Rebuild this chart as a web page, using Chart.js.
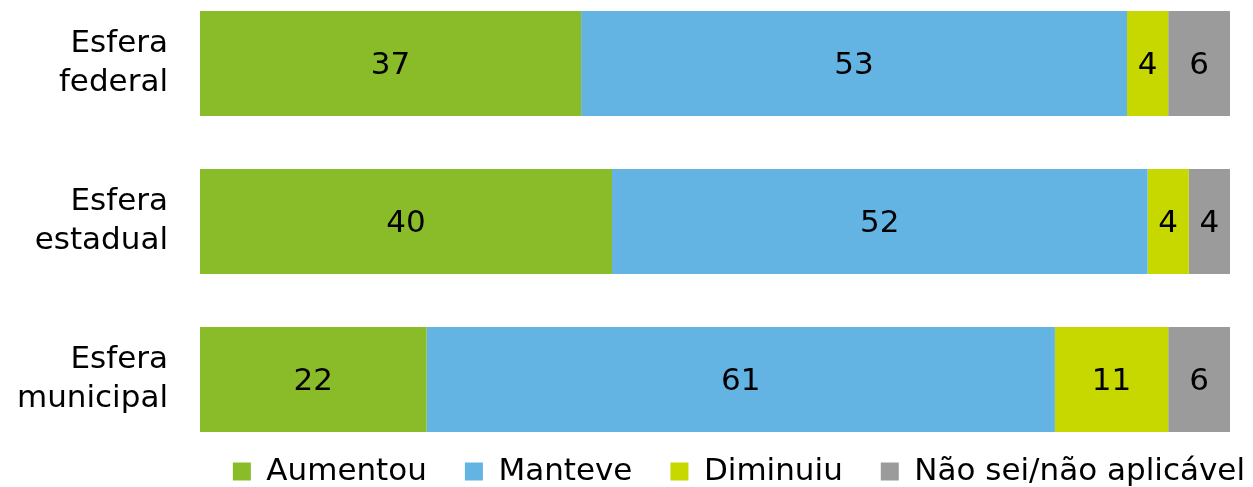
<!DOCTYPE html>
<html>
<head>
<meta charset="utf-8">
<script src="https://cdn.jsdelivr.net/npm/chart.js@4/dist/chart.umd.min.js"></script>
<style>
  html, body { margin: 0; padding: 0; background: #fff; overflow: hidden; }
  #wrap { width: 1253px; height: 487px; overflow: hidden; }
</style>
</head>
<body>
<div id="wrap">
  <canvas id="chart" width="1283" height="497"></canvas>
</div>
<script>
// dados (%)
const categorias = [['Esfera', 'federal'], ['Esfera', 'estadual'], ['Esfera', 'municipal']];
const aumentou = [37, 40, 22];
const manteve = [53, 52, 61];
const diminuiu = [4, 4, 11];
const naoSei = [6, 4, 6];

const series = [
    { label: 'Aumentou', data: aumentou, color: '#8abb28' },
    { label: 'Manteve', data: manteve, color: '#63b3e3' },
    { label: 'Diminuiu', data: diminuiu, color: '#c7d700' },
    { label: 'Não sei/não aplicável', data: naoSei, color: '#9b9b9c' }
];

Chart.defaults.font.family = "'DejaVu Sans', Verdana, sans-serif";
Chart.defaults.color = '#000';

// rótulos de valor no centro de cada segmento
const valueLabels = {
    id: 'valueLabels',
    afterDatasetsDraw(chart) {
        const ctx = chart.ctx;
        ctx.save();
        ctx.font = "31px 'DejaVu Sans', Verdana, sans-serif";
        ctx.fillStyle = '#000';
        ctx.textAlign = 'center';
        ctx.textBaseline = 'middle';
        chart.data.datasets.forEach((ds, i) => {
            chart.getDatasetMeta(i).data.forEach((bar, j) => {
                const p = bar.getCenterPoint();
                ctx.fillText(ds.data[j], p.x, p.y + 2);
            });
        });
        ctx.restore();
    }
};

const ctx = document.getElementById('chart').getContext('2d');
new Chart(ctx, {
    type: 'bar',
    data: {
        labels: categorias,
        datasets: series.map(s => ({
            label: s.label,
            data: s.data,
            backgroundColor: s.color,
            borderWidth: 0,
            categoryPercentage: 1,
            barPercentage: 0.665,
            clip: false
        }))
    },
    options: {
        indexAxis: 'y',
        responsive: false,
        animation: false,
        layout: { padding: { top: 63.5 } },
        scales: {
            x: {
                stacked: true,
                min: 0,
                max: 100,
                grid: { display: false },
                border: { display: false },
                ticks: { display: false },
                afterFit: s => { s.height = 38.5; }
            },
            y: {
                stacked: true,
                offset: false,
                grid: { display: false, drawTicks: false },
                border: { display: false },
                ticks: {
                    padding: 32,
                    font: { size: 31, lineHeight: 1.26 },
                    color: '#000'
                },
                afterFit: s => {
                    s.width = 200;
                    s.paddingTop = 0;
                    s.paddingBottom = 0;
                }
            },
            yDireita: {
                type: 'category',
                position: 'right',
                grid: { display: false },
                border: { display: false },
                ticks: { display: false },
                afterFit: s => { s.width = 53; }
            }
        },
        plugins: {
            legend: {
                position: 'bottom',
                align: 'end',
                labels: {
                    boxWidth: 18,
                    boxHeight: 18,
                    padding: 38,
                    font: { size: 31 },
                    color: '#000'
                }
            },
            tooltip: { enabled: false }
        }
    },
    plugins: [valueLabels]
});
</script>
</body>
</html>
